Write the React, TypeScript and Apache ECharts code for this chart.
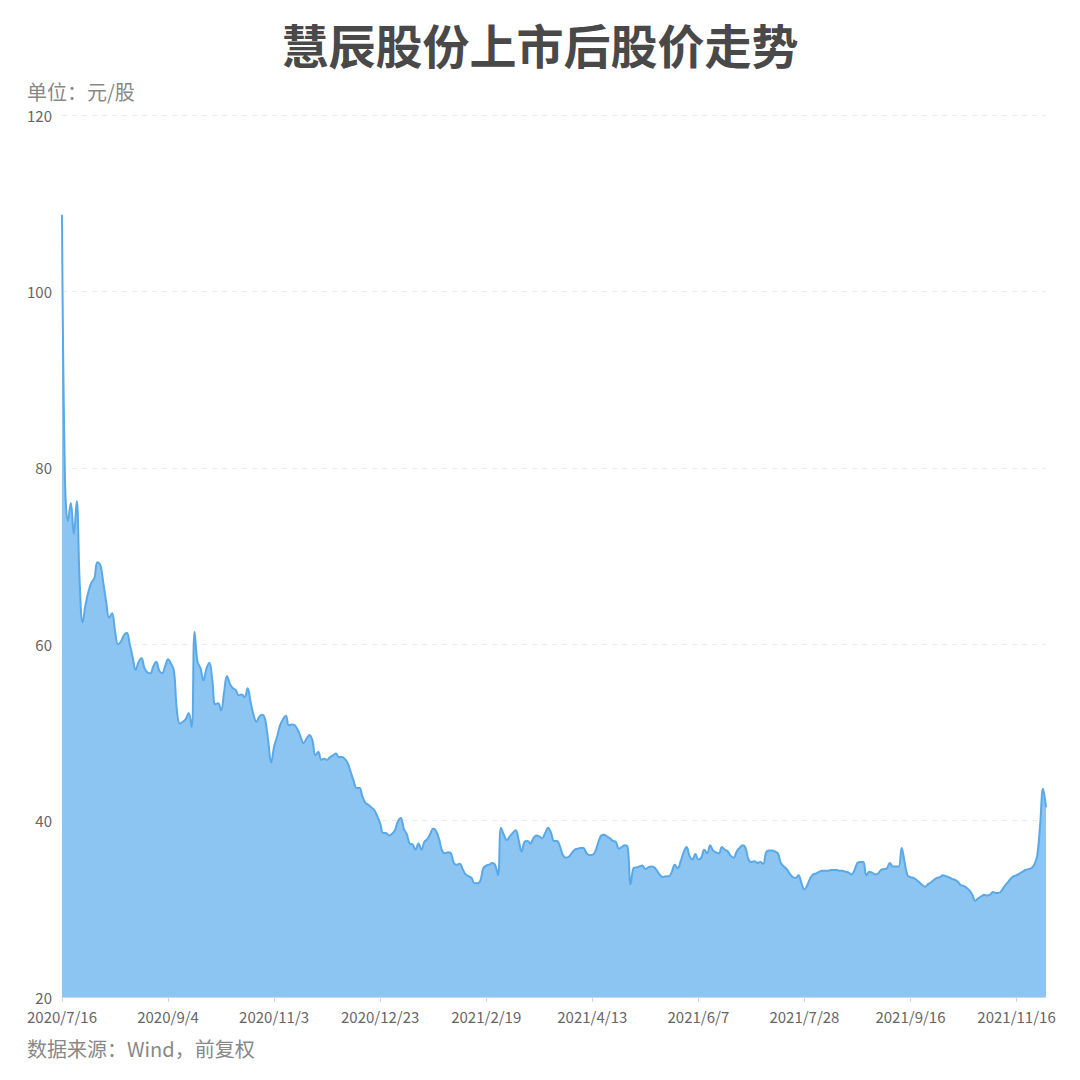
import React from 'react';
import * as echarts from 'echarts';

// 交易日：2020/7/16 – 2021/11/30，跳过周末与休市日
const startDate = '2020-07-16';
const endDate = '2021-11-30';
const holidays = [
  '2020-10-01', '2020-10-02', '2020-10-05', '2020-10-06', '2020-10-07', '2020-10-08',
  '2021-01-01',
  '2021-02-11', '2021-02-12', '2021-02-15', '2021-02-16', '2021-02-17',
  '2021-04-05',
  '2021-05-03', '2021-05-04', '2021-05-05',
  '2021-06-14',
  '2021-09-20', '2021-09-21',
  '2021-10-01', '2021-10-04', '2021-10-05', '2021-10-06', '2021-10-07',
];

// 收盘价（前复权，元/股），逐交易日
const prices = [
  108.7, 79.0, 74.0, 76.0, 72.5, 76.2, 67.0, 62.5, 64.5, 66.0,
  67.0, 67.5, 69.3, 69.0, 67.0, 64.8, 63.0, 63.5, 61.5, 60.0,
  60.3, 61.0, 61.3, 60.0, 58.5, 57.1, 58.0, 58.4, 57.3, 56.8,
  56.7, 57.5, 58.0, 57.0, 56.7, 57.5, 58.3, 57.8, 57.0, 52.5,
  51.0, 51.2, 51.5, 52.2, 50.6, 61.4, 58.0, 57.3, 55.9, 57.2,
  57.9, 56.0, 53.2, 53.3, 52.5, 54.5, 56.4, 55.5, 55.0, 54.8,
  54.2, 54.3, 54.0, 55.0, 53.5, 52.0, 51.2, 51.8, 52.0, 51.4,
  49.0, 46.6, 48.4, 49.5, 50.8, 51.5, 51.9, 50.8, 50.9, 50.8,
  50.3, 49.5, 48.8, 49.3, 49.7, 49.1, 47.4, 47.8, 46.9, 47.0,
  46.9, 47.2, 47.4, 47.6, 47.2, 47.2, 47.0, 46.5, 45.5, 44.5,
  43.7, 43.7, 42.7, 42.0, 41.8, 41.5, 41.2, 40.5, 39.7, 38.6,
  38.6, 38.3, 38.5, 38.9, 39.9, 40.3, 39.1, 38.5, 37.4, 37.3,
  36.7, 37.4, 36.7, 37.6, 37.9, 38.5, 39.1, 38.8, 37.9, 36.6,
  36.3, 36.4, 36.3, 35.2, 35.0, 35.1, 34.5, 33.9, 33.7, 33.5,
  32.9, 32.9, 33.2, 34.6, 34.9, 35.0, 35.2, 35.0, 33.8, 39.2,
  38.4, 37.8, 38.2, 38.6, 38.9, 37.8, 36.5, 37.6, 37.7, 37.4,
  38.0, 38.3, 38.2, 38.0, 38.6, 39.2, 38.6, 37.7, 37.7, 37.1,
  36.1, 35.8, 35.9, 36.3, 36.7, 36.8, 36.9, 36.9, 36.3, 36.1,
  36.1, 36.5, 37.5, 38.3, 38.4, 38.2, 38.0, 37.7, 37.6, 36.8,
  37.0, 37.2, 37.0, 32.8, 34.6, 34.7, 34.8, 34.9, 34.5, 34.7,
  34.8, 34.7, 34.3, 33.8, 33.6, 33.7, 33.7, 34.2, 35.0, 34.6,
  35.4, 36.4, 37.0, 36.0, 35.6, 36.2, 35.6, 35.8, 36.7, 36.3,
  37.2, 36.6, 36.4, 36.3, 37.0, 36.7, 36.5, 36.0, 35.8, 36.5,
  36.9, 37.2, 36.9, 35.6, 35.3, 35.4, 35.2, 35.3, 35.1, 36.4,
  36.6, 36.6, 36.5, 36.3, 35.2, 34.8, 34.5, 34.0, 33.6, 33.5,
  33.8, 32.9, 32.2, 32.7, 33.5, 33.9, 34.0, 34.2, 34.3, 34.3,
  34.3, 34.4, 34.4, 34.4, 34.3, 34.3, 34.2, 34.1, 33.9, 34.4,
  35.2, 35.3, 35.3, 33.8, 34.2, 34.1, 33.9, 34.0, 34.4, 34.5,
  34.6, 35.2, 34.8, 34.8, 34.8, 36.9, 35.3, 33.8, 33.6, 33.5,
  33.3, 33.0, 32.7, 32.5, 32.8, 33.0, 33.3, 33.5, 33.6, 33.8,
  33.7, 33.6, 33.4, 33.3, 33.1, 32.7, 32.6, 32.4, 32.1, 31.6,
  30.9, 31.2, 31.4, 31.6, 31.5, 31.6, 31.9, 31.8, 31.8, 32.1,
  32.6, 33.0, 33.4, 33.7, 33.8, 34.0, 34.2, 34.4, 34.5, 34.6,
  35.0, 36.0, 39.5, 43.6, 41.5,
];

const yTicks = [20, 40, 60, 80, 100, 120];

const buildTradingDays = (): string[] => {
  const days: string[] = [];
  const skip = new Set(holidays);
  const d = new Date(startDate + 'T00:00:00Z');
  const end = new Date(endDate + 'T00:00:00Z');
  while (d <= end) {
    const iso = d.toISOString().slice(0, 10);
    const wd = d.getUTCDay();
    if (wd !== 0 && wd !== 6 && !skip.has(iso)) {
      days.push(`${d.getUTCFullYear()}/${d.getUTCMonth() + 1}/${d.getUTCDate()}`);
    }
    d.setUTCDate(d.getUTCDate() + 1);
  }
  return days;
};

const FONT = '"Noto Sans CJK SC", "Noto Sans", sans-serif';

export default function App() {
  const ref = React.useRef<HTMLDivElement>(null);

  React.useEffect(() => {
    if (!ref.current) return;
    const chart = echarts.init(ref.current, null, { renderer: 'svg' });
    const dates = buildTradingDays();

    chart.setOption({
      animation: false,
      backgroundColor: '#ffffff',
      textStyle: { fontFamily: FONT },
      title: [
        {
          text: '慧辰股份上市后股价走势',
          left: 'center',
          top: 15,
          textStyle: { fontSize: 47, fontWeight: 'bold', color: '#494949', fontFamily: FONT },
        },
        {
          text: '单位：元/股',
          left: 22,
          top: 76,
          textStyle: { fontSize: 20, fontWeight: 'normal', color: '#888888', fontFamily: FONT },
        },
        {
          text: '数据来源：Wind，前复权',
          left: 22,
          top: 1033,
          textStyle: { fontSize: 20, fontWeight: 'normal', color: '#888888', fontFamily: FONT },
        },
      ],
      grid: { left: 62, right: 34, top: 115, bottom: 83, containLabel: false },
      xAxis: {
        type: 'category',
        data: dates,
        boundaryGap: false,
        axisLine: { lineStyle: { color: '#ccd6eb' } },
        axisTick: { show: true, interval: 35, length: 5, lineStyle: { color: '#ccd6eb' } },
        axisLabel: {
          interval: 35,
          color: '#666666',
          fontSize: 15,
          lineHeight: 16,
          margin: 11,
          fontFamily: FONT,
        },
        splitLine: { show: false },
      },
      yAxis: {
        type: 'value',
        min: yTicks[0],
        max: yTicks[yTicks.length - 1],
        interval: 20,
        axisLine: { show: false },
        axisTick: { show: false },
        axisLabel: { color: '#666666', fontSize: 15, lineHeight: 14, margin: 10, fontFamily: FONT },
        splitLine: { lineStyle: { color: '#ebebeb', type: [5, 5] } },
      },
      series: [
        {
          type: 'line',
          data: prices,
          smooth: 0.4,
          showSymbol: false,
          symbol: 'none',
          lineStyle: { color: '#5aa9e6', width: 2 },
          areaStyle: { color: '#8cc4f2', opacity: 1 },
          z: 2,
        },
      ],
    });

    return () => chart.dispose();
  }, []);

  return <div ref={ref} style={{ width: 1080, height: 1080, margin: -8 }} />;
}
